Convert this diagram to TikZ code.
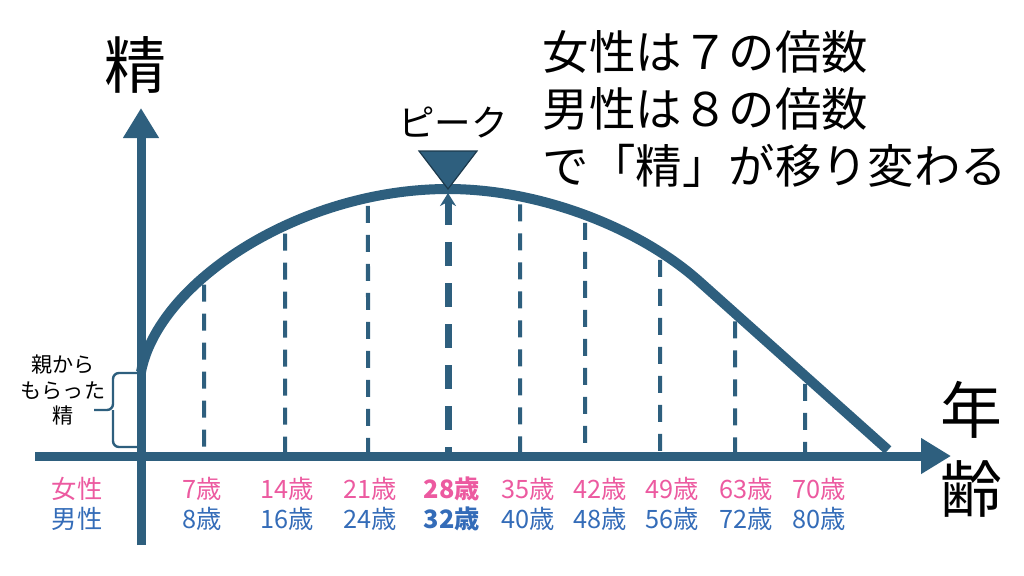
\documentclass[tikz,border=0pt]{standalone}
\usepackage{fontspec}
\setmainfont{Noto Sans CJK JP}
\usetikzlibrary{arrows.meta,intersections,calc}
\definecolor{aoi}{RGB}{46,95,126}
\definecolor{momo}{RGB}{236,90,160}
\definecolor{sora}{RGB}{52,108,184}
\tikzset{
  jiku/.style={line width=2.25mm,draw=aoi,-{Triangle[width=8.5mm,length=7.5mm]}},
  sen/.style={line width=2.5mm,draw=aoi},
  ten/.style={line width=1mm,draw=aoi,dash pattern=on 4.25mm off 3mm},
  futoten/.style={line width=1.75mm,draw=aoi,dash pattern=on 6mm off 4.25mm},
  kakko/.style={line width=0.6mm,draw=aoi,rounded corners=1.5mm},
  oomoji/.style={font=\fontsize{44}{50}\selectfont},
  nenrei/.style={font=\fontsize{18}{20}\selectfont},
}

\begin{document}
\begin{tikzpicture}[x=0.025cm,y=-0.025cm]
  \useasboundingbox (0,0) rectangle (1024,575);
  % jiku
  \coordinate (xs) at (35,456); \coordinate (xe) at (951,456);
  \coordinate (ys) at (141,545); \coordinate (ye) at (141,108);
  \coordinate (peak) at (448,189);
  \path[name path=curve] (141,372) .. controls (158,282) and (300,189) .. (peak)
    .. controls (540,189) and (640,228) .. (700,282) -- (888,450);
  % tensen
  \foreach \x in {204,285,368,520,585,660,735,805} {
    \path[name path=v\x] (\x,100) -- (\x,460);
    \path[name intersections={of=curve and v\x, by=c\x}];
    \draw[ten] (c\x) ++(0,8) -- (\x,456);
  }
  \draw[futoten,{Stealth[length=3.25mm,width=4mm]}-] ($(peak)+(0,4)$) -- (448,456);
  \draw[sen] (141,372) .. controls (158,282) and (300,189) .. (peak)
    .. controls (540,189) and (640,228) .. (700,282) -- (888,450);
  \draw[jiku] (xs) -- (xe);
  \draw[jiku] (ys) -- (ye);
  % peak
  \filldraw[fill=aoi,draw=aoi!60!black,line width=0.3mm] (peak) -- ++(-29,-38) -- ++(58,0) -- cycle;
  \node[font=\fontsize{26}{30}\selectfont] (peaklbl) at (453,122) {ピーク};
  % labels
  \node[oomoji] (sei) at (135,65) {精};
  \node[oomoji] (nen) at (971,410) {年};
  \node[oomoji] (rei) at (971,489) {齢};
  \node[align=left,anchor=west,font=\fontsize{33}{40.5}\selectfont] (setsumei) at (538,109)
    {女性は７の倍数\\男性は８の倍数\\で「精」が移り変わる};
  \node[align=center,font=\fontsize{15}{18}\selectfont] (oya) at (63,390) {親から\\もらった\\精};
  \draw[kakko] (137,373) -- (113,373) -- (113,410) -- (94,410);
  \draw[kakko] (137,447) -- (113,447) -- (113,410);
  % nenrei
  \node[nenrei,text=momo] (jo) at (77,489) {女性};
  \node[nenrei,text=sora] (dan) at (77,519) {男性};
  \foreach \x/\f/\m in {202/7/8,287/14/16,370/21/24,528/35/40,600/42/48,672/49/56,746/63/72,819/70/80} {
    \node[nenrei,text=momo] (f\f) at (\x,489) {\f 歳};
    \node[nenrei,text=sora] (m\m) at (\x,519) {\m 歳};
  }
  \node[nenrei,text=momo,font=\fontsize{18}{20}\selectfont\bfseries] (f28) at (452,489) {28歳};
  \node[nenrei,text=sora,font=\fontsize{18}{20}\selectfont\bfseries] (m32) at (452,519) {32歳};
\end{tikzpicture}
\end{document}
